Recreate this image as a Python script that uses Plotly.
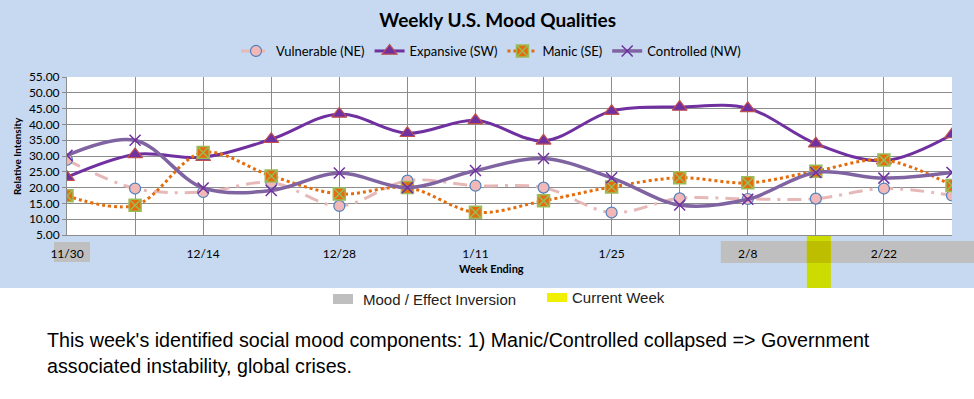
import plotly.graph_objects as go

weeks = ["11/30", "12/7", "12/14", "12/21", "12/28", "1/4", "1/11", "1/18",
         "1/25", "2/1", "2/8", "2/15", "2/22", "3/1"]
tick_labels = ["11/30", "", "12/14", "", "12/28", "", "1/11", "", "1/25", "", "2/8", "", "2/22", ""]

vulnerable = [28.8, 19.7, 18.6, 21.6, 14.2, 22.2, 20.6, 20.0, 12.1, 16.6, 16.4, 16.5, 19.7, 17.5]
expansive = [23.3, 30.5, 29.6, 35.3, 43.3, 37.2, 41.3, 34.8, 44.2, 45.5, 45.1, 33.9, 28.5, 36.8]
manic = [17.4, 14.4, 31.1, 23.7, 18.0, 20.0, 12.2, 15.8, 20.2, 23.1, 21.5, 25.2, 28.7, 20.7]
controlled = [30.2, 35.0, 19.9, 19.1, 24.6, 20.0, 25.4, 29.2, 23.1, 14.5, 16.3, 24.8, 23.0, 24.8]

inversion_weeks = ["11/30", "2/8", "2/15", "2/22", "3/1"]
current_week = "2/15"

idx = list(range(len(weeks)))
BG = "#C6D9F1"
FONT = "Lato"

fig = go.Figure()
fig.add_trace(go.Scatter(
    x=idx, y=vulnerable, name="Vulnerable (NE)", mode="lines+markers",
    line=dict(color="#E6B9B8", width=3, dash="14px,7px,3px,7px", shape="spline", smoothing=1),
    marker=dict(symbol="circle", size=11, color="#F2B8B8", line=dict(color="#4F81BD", width=1.2))))
fig.add_trace(go.Scatter(
    x=idx, y=expansive, name="Expansive (SW)", mode="lines+markers",
    line=dict(color="#7030A0", width=3, shape="spline", smoothing=1),
    marker=dict(symbol="triangle-up", size=13, color="#7030A0", line=dict(color="#C0504D", width=1.2))))
fig.add_trace(go.Scatter(
    x=idx, y=manic, name="Manic (SE)", mode="lines+markers",
    line=dict(color="#E46C0A", width=3, dash="dot", shape="spline", smoothing=1),
    marker=dict(symbol="square-x", size=12, color="#E46C0A", line=dict(color="#9BBB59", width=1.5))))
fig.add_trace(go.Scatter(
    x=idx, y=controlled, name="Controlled (NW)", mode="lines+markers",
    line=dict(color="#8064A2", width=3.5, shape="spline", smoothing=1),
    marker=dict(symbol="x-thin-open", size=11, color="#7030A0", line=dict(color="#7030A0", width=1.5))))

L, R, T, B = 67, 952, 77, 235


def px(xp, yp):
    return (xp - L) / (R - L), (B - yp) / (B - T)


def wx(i):
    # pixel x of week index i
    return L + i * (R - L) / (len(weeks) - 1)


shapes = []
# white area below chart panel
shapes.append(dict(type="rect", xref="paper", yref="paper", x0=-0.1, x1=1.1, y0=-1.1, y1=px(0, 288)[1],
                   fillcolor="white", line=dict(width=0), layer="below"))


def rect(xa, xb, ya, yb, color, layer="below"):
    x0, y0 = px(xa, yb)
    x1, y1 = px(xb, ya)
    shapes.append(dict(type="rect", xref="paper", yref="paper", x0=x0, x1=x1, y0=y0, y1=y1,
                       fillcolor=color, line=dict(width=0), layer=layer))


first = weeks.index(inversion_weeks[0])
rect(wx(first) - 13, wx(first) + 23, 242, 262, "#BFBFBF")
start = weeks.index(inversion_weeks[1])
rect(wx(start) - 27, 974, 241, 263, "#BFBFBF")
cw = weeks.index(current_week)
rect(wx(cw) - 9, wx(cw) + 15, 235, 288, "#CCDB00")
rect(wx(cw) - 9, wx(cw) + 15, 241, 263, "#BEBE00")
# bottom legend swatches
rect(333, 353, 294, 304, "#BFBFBF", "above")
rect(547, 567, 293, 302, "#F0F000", "above")

annotations = []


def note(text, xp, yp, size, family=FONT, xanchor="center", angle=0, color="black"):
    ax, ay = px(xp, yp)
    annotations.append(dict(text=text, x=ax, y=ay, xref="paper", yref="paper",
                            xanchor=xanchor, yanchor="middle", textangle=angle, showarrow=False,
                            font=dict(family=family, size=size, color=color)))


note("<b>Relative Intensity</b>", 17, 156, 10, angle=-90)
note("<b>Week Ending</b>", 491, 268, 11)
note("Mood / Effect Inversion", 361, 299, 15, family="Liberation Sans", xanchor="left", color="#222")
note("Current Week", 570, 297, 15, family="Liberation Sans", xanchor="left", color="#222")
note("This week's identified social mood components: 1) Manic/Controlled collapsed => Government",
     45, 340, 19.7, family="Liberation Sans", xanchor="left")
note("associated instability, global crises.", 45, 366, 19.7, family="Liberation Sans", xanchor="left")

fig.update_layout(
    width=974, height=399,
    margin=dict(l=L, r=974 - R, t=T, b=399 - B, autoexpand=False),
    paper_bgcolor=BG, plot_bgcolor="white",
    title=dict(text="<b>Weekly U.S. Mood Qualities</b>", x=0.511, xanchor="center", y=0.95, yanchor="middle",
               font=dict(family=FONT, size=19, color="black")),
    legend=dict(orientation="h", x=px(491, 0)[0], xanchor="center", y=px(0, 51)[1], yanchor="middle",
                bgcolor="rgba(0,0,0,0)", font=dict(family=FONT, size=13, color="black"),
                itemwidth=30),
    showlegend=True,
    shapes=shapes,
    annotations=annotations,
    xaxis=dict(range=[0, 13], tickmode="array", tickvals=idx, ticktext=tick_labels,
               showgrid=True, gridcolor="#8C8C8C", gridwidth=1, zeroline=False,
               showline=True, linecolor="#8C8C8C", linewidth=1,
               ticks="outside", ticklen=8, tickcolor="rgba(0,0,0,0)",
               tickfont=dict(family=FONT, size=12, color="black")),
    yaxis=dict(range=[5, 55], dtick=5, tick0=5, tickformat=".2f",
               showgrid=True, gridcolor="#8C8C8C", gridwidth=1, zeroline=False,
               showline=True, linecolor="#8C8C8C", linewidth=1,
               ticks="outside", ticklen=4, tickcolor="#8C8C8C",
               tickfont=dict(family=FONT, size=12, color="black")),
)

fig.write_html("out.html", config={"displayModeBar": False},
               post_script="document.body.style.margin='0';")
